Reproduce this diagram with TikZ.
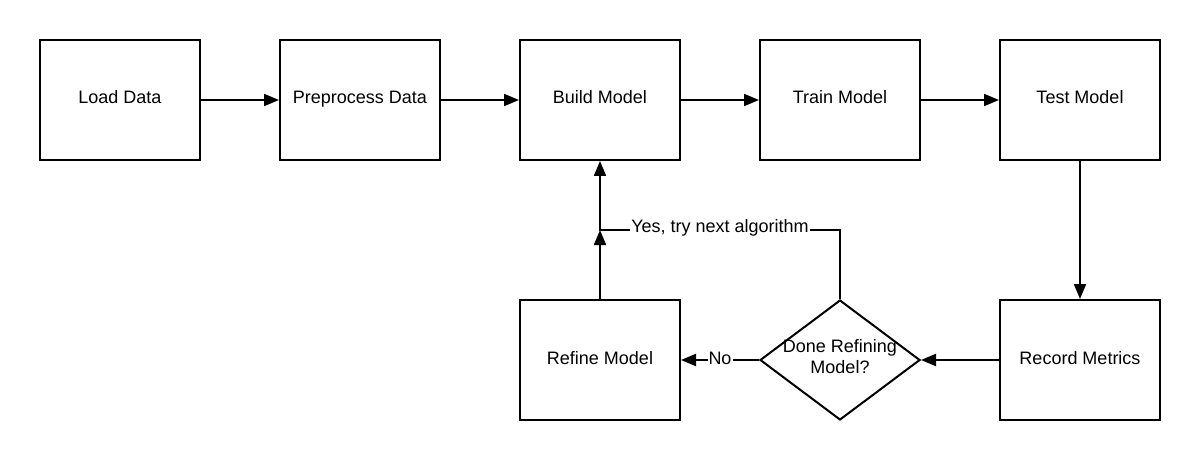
\documentclass[tikz,border=0pt]{standalone}
\usepackage{fontspec}
\setmainfont{Liberation Sans}
\usetikzlibrary{shapes.geometric,arrows.meta}
\begin{document}
\begin{tikzpicture}[x=0.5pt,y=-0.5pt,
  box/.style={draw,line width=1pt,minimum width=80pt,minimum height=60pt,inner sep=0pt,text height=7.2pt,text depth=3.2pt,font=\fontsize{9}{11}\selectfont},
  conn/.style={line width=1pt,-{Triangle[length=7.5pt,width=6pt]}},
  lab/.style={fill=white,inner sep=0.5pt,font=\fontsize{9}{11}\selectfont}]
\useasboundingbox (0,0) rectangle (1200,460);
\node[box] (load) at (120,100) {Load Data};
\node[box] (pre) at (360,100) {Preprocess Data};
\node[box] (build) at (600,100) {Build Model};
\node[box] (train) at (840,100) {Train Model};
\node[box] (test) at (1080,100) {Test Model};
\node[box] (refine) at (600,360) {Refine Model};
\node[box] (rec) at (1080,360) {Record Metrics};
\node[diamond,draw,line width=1pt,minimum width=80pt,minimum height=60pt,inner sep=0pt] (dec) at (840,360) {};
\node[align=center,inner sep=0pt,font=\fontsize{9}{10.5}\selectfont] (dectxt) at (840,357) {Done Refining\\Model?};
\coordinate (j) at (600,230);
\coordinate (c) at (840,230);
\draw[conn] (load) -- (pre);
\draw[conn] (pre) -- (build);
\draw[conn] (build) -- (train);
\draw[conn] (train) -- (test);
\draw[conn] (test) -- (rec);
\draw[conn] (rec) -- (dec);
\draw[conn] (dec.west) -- node[lab,yshift=1pt] {No} (refine);
\draw[conn] (refine) -- (j);
\draw[conn] (dec.north) -- (c) -- node[lab,yshift=1pt] {Yes, try next algorithm} (j) -- (build);
\end{tikzpicture}
\end{document}
